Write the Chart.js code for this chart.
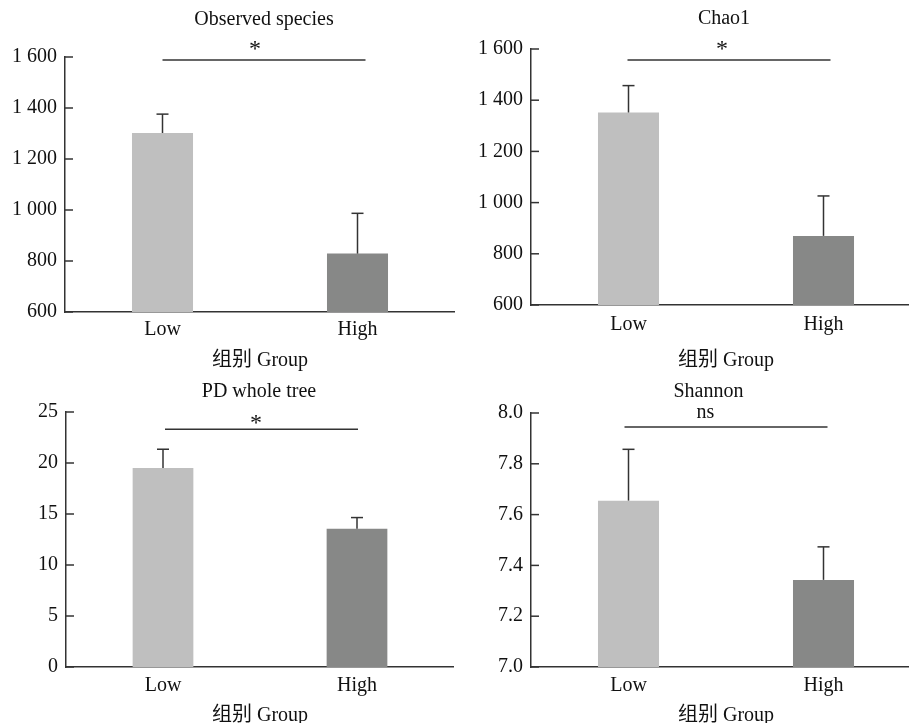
<!DOCTYPE html>
<html>
<head>
<meta charset="utf-8">
<title>Alpha diversity</title>
<style>
    html, body { margin: 0; padding: 0; background: #fff; width: 909px; height: 723px; overflow: hidden; }
    .panel { position: absolute; }
</style>
<script src="https://cdn.jsdelivr.net/npm/chart.js@4.4.0/dist/chart.umd.min.js"></script>
</head>
<body>
<div class="panel" style="left:0;top:0"><canvas id="obsChart" width="455" height="373"></canvas></div>
<div class="panel" style="left:454px;top:0"><canvas id="chaoChart" width="467" height="373"></canvas></div>
<div class="panel" style="left:0;top:370px"><canvas id="pdChart" width="454" height="358"></canvas></div>
<div class="panel" style="left:454px;top:370px"><canvas id="shanChart" width="467" height="358"></canvas></div>
<script>
    // Dữ liệu
    const groups = ['Low', 'High'];
    const xTitle = '组别 Group';

    const obsMean = [1302, 829];
    const obsUpper = [1376, 987];
    const chaoMean = [1352, 870];
    const chaoUpper = [1457, 1026];
    const pdMean = [19.5, 13.55];
    const pdUpper = [21.35, 14.65];
    const shanMean = [7.655, 7.343];
    const shanUpper = [7.857, 7.473];

    const titles = ['Observed species', 'Chao1', 'PD whole tree', 'Shannon'];
    const sigLabels = ['*', '*', '*', 'ns'];
    const sigLevels = [1588, 1557, 23.3, 7.945];   // độ cao đường so sánh (đơn vị trục)

    const yMin = [600, 600, 0, 7.0];
    const yMax = [1600, 1600, 25, 8.0];
    const yStep = [200, 200, 5, 0.2];

    const FONT = '"Liberation Serif", "Noto Sans CJK SC", serif';
    const INK = '#111111';
    const LINE = '#333333';

    function fmtThousands(v) {
        if (v >= 1000) return Math.floor(v / 1000) + ' ' + String(v % 1000).padStart(3, '0');
        return String(v);
    }

    // Plugin vẽ vạch chia hướng vào trong, thanh sai số, đường so sánh và tiêu đề
    const decorPlugin = {
        id: 'decor',
        afterDatasetsDraw(chart, args, opts) {
            const ctx = chart.ctx;
            const xs = chart.scales.x, ys = chart.scales.y;
            const area = chart.chartArea;
            const line = (x1, y1, x2, y2) => {
                ctx.beginPath(); ctx.moveTo(x1, y1); ctx.lineTo(x2, y2); ctx.stroke();
            };
            ctx.save();
            ctx.strokeStyle = LINE;
            ctx.lineWidth = 1.5;
            ys.ticks.forEach((t, i) => {
                const py = ys.getPixelForTick(i);
                line(area.left, py, area.left + 8, py);
            });
            opts.upper.forEach((u, i) => {
                const px = xs.getPixelForValue(i);
                const top = ys.getPixelForValue(u);
                const base = ys.getPixelForValue(opts.mean[i]);
                line(px, base, px, top);
                line(px - 6, top, px + 6, top);
            });
            const sy = ys.getPixelForValue(opts.sigLevel);
            line(xs.getPixelForValue(0) + opts.sigFrom, sy, xs.getPixelForValue(1) + opts.sigTo, sy);

            ctx.fillStyle = INK;
            ctx.textAlign = 'center';
            ctx.textBaseline = 'alphabetic';
            ctx.font = opts.sigSize + 'px ' + FONT;
            ctx.fillText(opts.sigLabel, opts.sigX, sy + opts.sigDy);
            ctx.font = '20px ' + FONT;
            ctx.textBaseline = 'middle';
            ctx.fillText(opts.title, opts.titleX, opts.titleY);
            ctx.restore();
        }
    };

    function makeChart(id, k, mean, upper, fmt, lay) {
        const ctx = document.getElementById(id).getContext('2d');
        return new Chart(ctx, {
            type: 'bar',
            data: {
                labels: groups,
                datasets: [{
                    data: mean,
                    backgroundColor: ['#bfbfbf', '#878887'],
                    borderWidth: 0,
                    barPercentage: 0.313,
                    categoryPercentage: 1
                }]
            },
            options: {
                responsive: false,
                devicePixelRatio: 1,
                animation: false,
                layout: { padding: { top: lay.padTop, left: 0, right: 0, bottom: 0 } },
                scales: {
                    x: {
                        grid: { display: false, drawTicks: false },
                        border: { color: LINE, width: 1.5 },
                        ticks: { color: INK, font: { family: FONT, size: 20 }, padding: lay.xPad },
                        title: {
                            display: true, text: xTitle, color: INK,
                            font: { family: FONT, size: 20 }, padding: 0
                        },
                        afterFit: s => { s.height = lay.xHeight; }
                    },
                    y: {
                        min: yMin[k],
                        max: yMax[k],
                        grid: { display: false, drawTicks: false },
                        border: { color: LINE, width: 1.5 },
                        ticks: {
                            stepSize: yStep[k],
                            color: INK,
                            font: { family: FONT, size: 20 },
                            padding: 8,
                            callback: fmt
                        },
                        afterFit: s => { s.width = lay.yWidth; }
                    }
                },
                plugins: {
                    legend: { display: false },
                    tooltip: { enabled: false },
                    decor: {
                        mean: mean,
                        upper: upper,
                        sigLevel: sigLevels[k],
                        sigLabel: sigLabels[k],
                        title: titles[k],
                        sigFrom: lay.sigFrom, sigTo: lay.sigTo,
                        sigX: lay.sigX, sigDy: lay.sigDy, sigSize: lay.sigSize,
                        titleX: lay.titleX, titleY: lay.titleY
                    }
                }
            },
            plugins: [decorPlugin]
        });
    }

    makeChart('obsChart', 0, obsMean, obsUpper, v => fmtThousands(v),
        { padTop: 57, xHeight: 61, xPad: 6, yWidth: 65, sigFrom: 0, sigTo: 8, sigX: 255, sigDy: -3.8, sigSize: 24, titleX: 264, titleY: 19.5 });
    makeChart('chaoChart', 1, chaoMean, chaoUpper, v => fmtThousands(v),
        { padTop: 49, xHeight: 68, xPad: 8, yWidth: 77, sigFrom: -1, sigTo: 7, sigX: 268, sigDy: -3.8, sigSize: 24, titleX: 270, titleY: 19 });
    makeChart('pdChart', 2, pdMean, pdUpper, v => String(v),
        { padTop: 42, xHeight: 61, xPad: 7, yWidth: 66, sigFrom: 2, sigTo: 1, sigX: 256, sigDy: 1, sigSize: 24, titleX: 259, titleY: 22 });
    makeChart('shanChart', 3, shanMean, shanUpper, v => v.toFixed(1),
        { padTop: 43, xHeight: 61, xPad: 7, yWidth: 77, sigFrom: -4, sigTo: 4, sigX: 251.5, sigDy: -9, sigSize: 20, titleX: 254.5, titleY: 22 });
</script>
</body>
</html>
